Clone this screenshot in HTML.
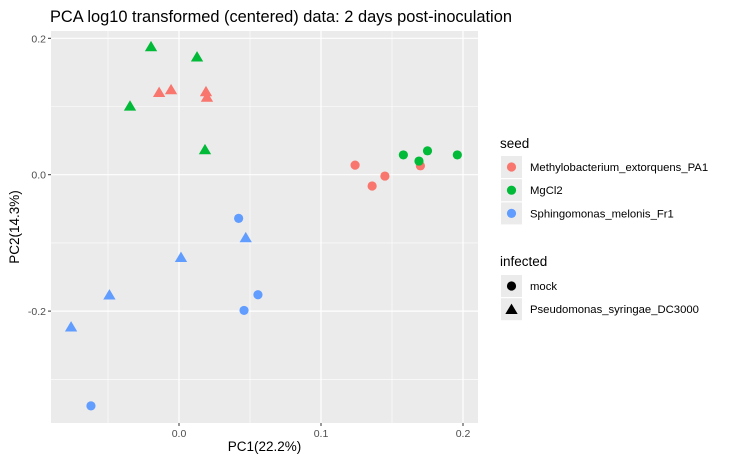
<!DOCTYPE html>
<html><head><meta charset="utf-8"><style>
body{margin:0;background:#fff;}
svg{display:block;font-family:"Liberation Sans",Arial,sans-serif;}
</style></head><body>
<svg id="chart" width="731" height="466"></svg>
<script>
const seeds = ["Methylobacterium_extorquens_PA1","MgCl2","Sphingomonas_melonis_Fr1"];
const infections = ["mock","Pseudomonas_syringae_DC3000"];
const pc1 = [-0.0197,0.0127,-0.0345,0.0183, -0.014,-0.0056,0.019,0.0197, 0.047,0.0014,-0.049,-0.076, 0.042,0.0556,0.0458,-0.062, 0.124,0.136,0.145,0.170, 0.158,0.169,0.175,0.196];
const pc2 = [0.188,0.173,0.101,0.037, 0.121,0.125,0.122,0.114, -0.092,-0.121,-0.176,-0.223, -0.064,-0.176,-0.199,-0.339, 0.014,-0.0166,-0.002,0.013, 0.029,0.020,0.035,0.029];
const seedIdx = [1,1,1,1, 0,0,0,0, 2,2,2,2, 2,2,2,2, 0,0,0,0, 1,1,1,1];
const infIdx = [1,1,1,1, 1,1,1,1, 1,1,1,1, 0,0,0,0, 0,0,0,0, 0,0,0,0];
const xTicks = [0.0,0.1,0.2];
const xTickLabels = ["0.0","0.1","0.2"];
const yTicks = [0.2,0.0,-0.2];
const yTickLabels = ["0.2","0.0","-0.2"];
const colors = ["#F8766D","#00BA38","#619CFF"];

const NS="http://www.w3.org/2000/svg";
const svg=document.getElementById('chart');
function mk(tag,attrs,parent){const e=document.createElementNS(NS,tag);for(const k in attrs)e.setAttribute(k,attrs[k]);(parent||svg).appendChild(e);return e;}
const L=51,R=478,T=31,B=423;
const x0=179, xs=1420, y0=174.7, ys=682;
const X=v=>x0+v*xs, Y=v=>y0-v*ys;

let e=mk('rect',{x:L,y:T,width:R-L,height:B-T,fill:'#EBEBEB'});


for(let v=-0.15;v<=0.25;v+=0.1){const px=X(v);if(px>L&&px<R){e=mk('line',{x1:px,x2:px,y1:T,y2:B,stroke:'#fff','stroke-width':0.6});}}
for(let v=-0.3;v<=0.2;v+=0.2){const py=Y(v);if(py>T&&py<B){e=mk('line',{x1:L,x2:R,y1:py,y2:py,stroke:'#fff','stroke-width':0.6});}}
xTicks.forEach((v,i)=>{const px=X(v);
 e=mk('line',{x1:px,x2:px,y1:T,y2:B,stroke:'#fff','stroke-width':1.2});
 e=mk('line',{x1:px,x2:px,y1:B,y2:B+3,stroke:'#333','stroke-width':1});
 e=mk('text',{x:px,y:B+14,'text-anchor':'middle','font-size':10.5,fill:'#4d4d4d'});e.textContent=xTickLabels[i];});
yTicks.forEach((v,i)=>{const py=Y(v);
 e=mk('line',{x1:L,x2:R,y1:py,y2:py,stroke:'#fff','stroke-width':1.2});
 e=mk('line',{x1:L-3,x2:L,y1:py,y2:py,stroke:'#333','stroke-width':1});
 e=mk('text',{x:L-5,y:py+4,'text-anchor':'end','font-size':10.5,fill:'#4d4d4d'});e.textContent=yTickLabels[i];});

function shape(kind,cx,cy,col,parent){
 if(kind===0) return mk('circle',{cx:cx,cy:cy,r:4.6,fill:col},parent);
 const s=5.6; return mk('polygon',{points:`${cx},${cy-s} ${cx+s*1.1},${cy+s*0.85} ${cx-s*1.1},${cy+s*0.85}`,fill:col},parent);
}
pc1.forEach((v,i)=>{e=shape(infIdx[i],X(v),Y(pc2[i]),colors[seedIdx[i]]);
 
 });

e=mk('text',{x:50,y:22,'font-size':16.4,fill:'#000'});e.textContent='PCA log10 transformed (centered) data: 2 days post-inoculation';
e=mk('text',{x:(L+R)/2,y:451,'text-anchor':'middle','font-size':13.5,fill:'#000'});e.textContent='PC1(22.2%)';
e=mk('text',{x:0,y:0,'text-anchor':'middle','font-size':13.5,fill:'#000',transform:`translate(19,${(T+B)/2}) rotate(-90)`});e.textContent='PC2(14.3%)';

e=mk('text',{x:500,y:148,'font-size':13.5,fill:'#000'});e.textContent='seed';
seeds.forEach((s,i)=>{const cy=167+i*23.2;
 const g=mk('g',{});
 mk('rect',{x:501,y:cy-11,width:21,height:22,fill:'#EBEBEB'},g);
 mk('circle',{cx:511.5,cy:cy,r:4.6,fill:colors[i]},g);
 const t=mk('text',{x:530,y:cy+4,'font-size':11.3,fill:'#000'},g);t.textContent=s;});
e=mk('text',{x:500,y:266,'font-size':13.5,fill:'#000'});e.textContent='infected';
infections.forEach((s,i)=>{const cy=286+i*23.2;
 const g=mk('g',{});
 mk('rect',{x:501,y:cy-11,width:21,height:22,fill:'#EBEBEB'},g);
 shape(i,511.5,cy,'#000',g);
 const t=mk('text',{x:530,y:cy+4,'font-size':11.3,fill:'#000'},g);t.textContent=s;});
</script>
</body></html>
